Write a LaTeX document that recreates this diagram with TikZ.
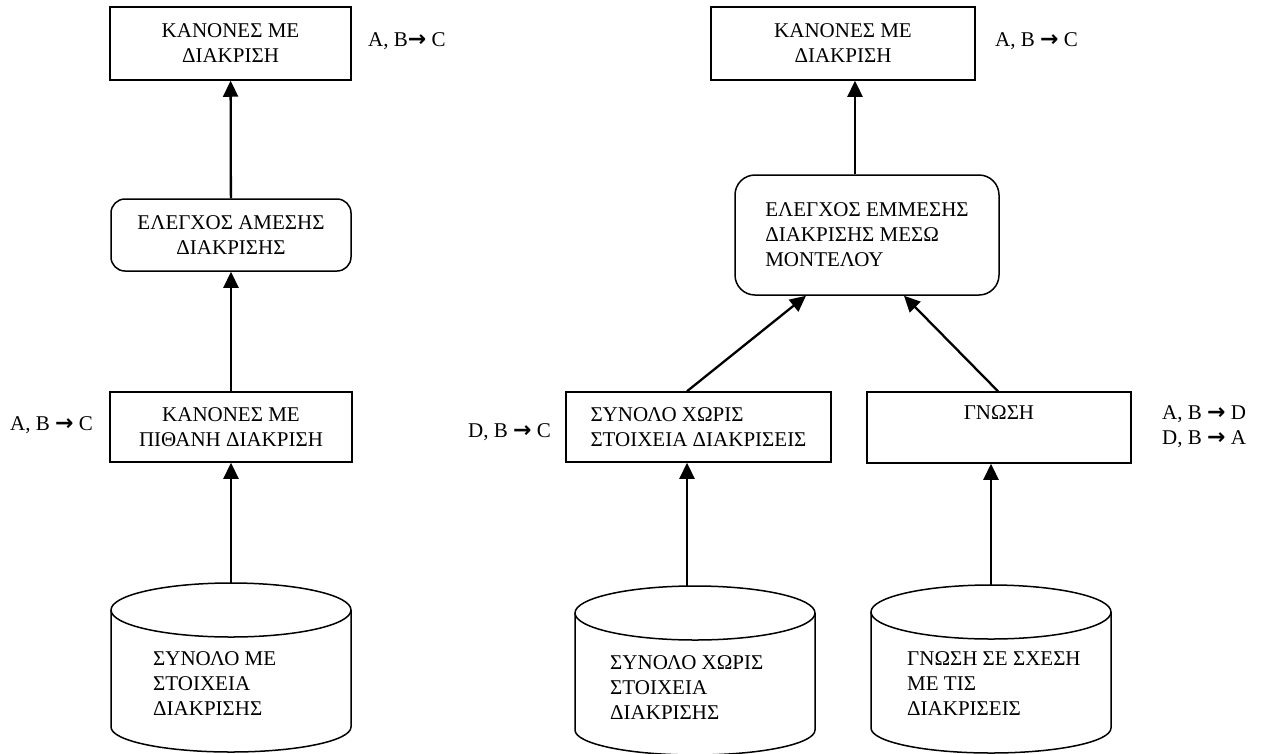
\documentclass[tikz,border=0pt]{standalone}
\usepackage{fontspec}
\setmainfont{Liberation Serif}
\newfontfamily\arrowfont{DejaVu Sans}
\newcommand{\impl}{{\arrowfont\bfseries\fontsize{22}{25}\selectfont →}}
\usetikzlibrary{arrows.meta}

\tikzset{
	every node/.style={font=\fontsize{21}{25}\selectfont},
	rulebox/.style={draw, line width=1.5pt, minimum width=241pt, minimum height=71pt, align=center, inner sep=0pt},
	checkbox/.style={rulebox, rounded corners=14pt},
	dbtext/.style={anchor=west, align=left, inner sep=0pt},
	rulelabel/.style={anchor=west, inner sep=0pt, align=left},
	conn/.style={line width=2.3pt, -{Triangle[width=15pt,length=16pt]}}
}

\begin{document}
\begin{tikzpicture}[x=1pt, y=-1pt]
	\useasboundingbox (0,0) rectangle (1264,753);

	% left branch: direct discrimination
	\node[rulebox, minimum height=73pt] (ruleA) at (230.5,43.5) {ΚΑΝΟΝΕΣ ΜΕ\\ΔΙΑΚΡΙΣΗ};
	\node[checkbox, minimum width=240pt, minimum height=72pt] (chkA) at (231,235) {ΕΛΕΓΧΟΣ ΑΜΕΣΗΣ\\ΔΙΑΚΡΙΣΗΣ};
	\node[rulebox, minimum width=242pt, minimum height=70pt] (ruleP) at (231,427) {ΚΑΝΟΝΕΣ ΜΕ\\ΠΙΘΑΝΗ ΔΙΑΚΡΙΣΗ};
	\node[dbtext] (setA) at (153,684) {ΣΥΝΟΛΟ ΜΕ\\ΣΤΟΙΧΕΙΑ\\ΔΙΑΚΡΙΣΗΣ};

	% right branch: indirect discrimination
	\node[rulebox, minimum width=264pt, minimum height=73pt] (ruleB) at (843,43.5) {ΚΑΝΟΝΕΣ ΜΕ\\ΔΙΑΚΡΙΣΗ};
	\node[checkbox, rounded corners=20pt, minimum width=264pt, minimum height=120pt, align=left] (chkB) at (867,235) {ΕΛΕΓΧΟΣ ΕΜΜΕΣΗΣ\\ΔΙΑΚΡΙΣΗΣ ΜΕΣΩ\\ΜΟΝΤΕΛΟΥ};
	\node[rulebox, minimum width=265pt, minimum height=70pt, align=left] (setB) at (698.5,427) {ΣΥΝΟΛΟ ΧΩΡΙΣ\\ΣΤΟΙΧΕΙΑ ΔΙΑΚΡΙΣΕΙΣ};
	\node[rulebox, minimum width=264pt, minimum height=71pt, text depth=30pt] (know) at (999,427.5) {ΓΝΩΣΗ};
	\node[dbtext] (setC) at (610,688) {ΣΥΝΟΛΟ ΧΩΡΙΣ\\ΣΤΟΙΧΕΙΑ\\ΔΙΑΚΡΙΣΗΣ};
	\node[dbtext] (knowC) at (907,684) {ΓΝΩΣΗ ΣΕ ΣΧΕΣΗ\\ΜΕ ΤΙΣ\\ΔΙΑΚΡΙΣΕΙΣ};

	% databases
	\foreach \cx/\cy/\h in {231/610/117, 695/613/117, 991/612/116} {
		\draw[line width=1.5pt] (\cx,\cy) ellipse [x radius=120pt, y radius=27pt];
		\draw[line width=1.5pt] (\cx-120,\cy) -- ++(0,\h)
			arc[start angle=180, end angle=360, x radius=120pt, y radius=25pt] -- ++(0,-\h);
	}
	\coordinate (dbA) at (231,583);
	\coordinate (dbB) at (687,586);
	\coordinate (dbC) at (991,585);

	% rule labels
	\node[rulelabel] (labA) at (368,41) {A, B\impl\ C};
	\node[rulelabel] (labP) at (10,425) {A, B \impl\ C};
	\node[rulelabel] (labB) at (995,41) {A, B \impl\ C};
	\node[rulelabel] (labS) at (468,432) {D, B \impl\ C};
	\node[rulelabel] (labK) at (1162,427) {A, B \impl\ D\\D, B \impl\ A};

	% connectors
	\draw[conn] (dbA) -- (ruleP);
	\draw[conn] (ruleP) -- (chkA);
	\draw[conn] (chkA) -- (ruleA);
	\draw[conn] (dbB) -- (dbB |- setB.south);
	\draw[conn] (dbC) -- (dbC |- know.south);
	\draw[conn] ([xshift=-11.5pt]setB.north) -- ([xshift=-61pt]chkB.south);
	\draw[conn] ([xshift=-1pt]know.north) -- ([xshift=37pt]chkB.south);
	\draw[conn] ([xshift=-12pt]chkB.north) -- ([xshift=-12pt]chkB.north |- ruleB.south);
\end{tikzpicture}
\end{document}
